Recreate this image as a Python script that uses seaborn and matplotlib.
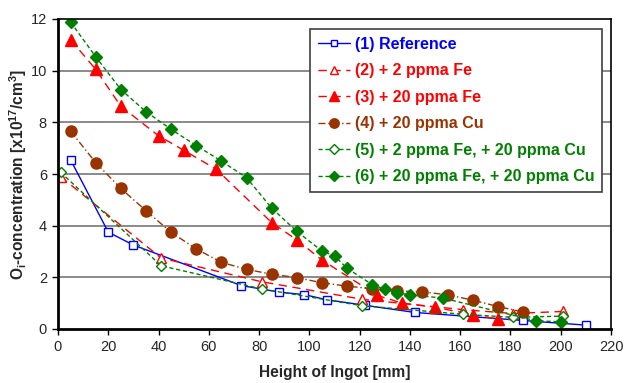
import matplotlib
matplotlib.use("Agg")
import matplotlib.pyplot as plt
import seaborn as sns
import pandas as pd

# ---- data ----
x_ref = [5, 20, 30, 73, 88, 98, 107, 122, 142, 185, 210]
y_ref = [6.55, 3.75, 3.25, 1.68, 1.43, 1.33, 1.13, 0.92, 0.64, 0.33, 0.15]

x_fe2 = [1, 41, 81, 121, 161, 181, 201]
y_fe2 = [5.9, 2.75, 1.83, 1.15, 0.75, 0.6, 0.68]

x_fe20 = [5, 15, 25, 40, 50, 63, 85, 95, 105, 127, 137, 150, 165, 175]
y_fe20 = [11.2, 10.05, 8.62, 7.48, 6.92, 6.18, 4.12, 3.45, 2.67, 1.3, 1.0, 0.84, 0.56, 0.38]

x_cu = [5, 15, 25, 35, 45, 55, 65, 75, 85, 95, 105, 115, 125, 135, 145, 155, 165, 175, 185]
y_cu = [7.66, 6.44, 5.44, 4.58, 3.74, 3.1, 2.58, 2.31, 2.12, 1.99, 1.79, 1.66, 1.56, 1.47, 1.44, 1.32, 1.12, 0.87, 0.66]

x_fe2cu = [1, 41, 81, 121, 161, 181, 201]
y_fe2cu = [6.07, 2.45, 1.55, 0.9, 0.57, 0.45, 0.5]

x_fe20cu = [5, 15, 25, 35, 45, 55, 65, 75, 85, 95, 105, 110, 115, 125, 130, 135, 140, 153, 190, 200]
y_fe20cu = [11.88, 10.54, 9.27, 8.41, 7.73, 7.1, 6.5, 5.86, 4.68, 3.78, 3.02, 2.83, 2.35, 1.72, 1.54, 1.4, 1.32, 1.2, 0.32, 0.28]

labels = ["(1) Reference", "(2) + 2 ppma Fe", "(3) + 20 ppma Fe", "(4) + 20 ppma Cu",
          "(5) + 2 ppma Fe, + 20 ppma Cu", "(6) + 20 ppma Fe, + 20 ppma Cu"]
x_ticks = [0, 20, 40, 60, 80, 100, 120, 140, 160, 180, 200, 220]
y_ticks = [0, 2, 4, 6, 8, 10, 12]

# ---- style ----
sns.set_style("white")
plt.rcParams["font.family"] = ["Liberation Sans", "DejaVu Sans"]
plt.rcParams["mathtext.fontset"] = "custom"
plt.rcParams["mathtext.rm"] = "Liberation Sans:bold"
plt.rcParams["mathtext.it"] = "Liberation Sans:bold"
plt.rcParams["mathtext.bf"] = "Liberation Sans:bold"
plt.rcParams["mathtext.default"] = "bf"

fig = plt.figure(figsize=(6.25, 3.83), dpi=100)
ax = fig.add_axes([58 / 625, 54 / 383, 553 / 625, 310 / 383])

blue = "#0000FF"
red = "#FF0000"
brown = "#993300"
green = "#008000"

series = [
    (x_ref, y_ref, dict(color=blue, linestyle="-", linewidth=1.0, marker="s", markersize=5.5,
                        markerfacecolor="white", markeredgecolor=blue, markeredgewidth=1.0)),
    (x_fe2, y_fe2, dict(color=red, linestyle=(0, (6, 4)), linewidth=1.0, marker="^", markersize=7,
                        markerfacecolor="white", markeredgecolor=red, markeredgewidth=1.0)),
    (x_fe20, y_fe20, dict(color=red, linestyle=(0, (6, 4)), linewidth=1.0, marker="^", markersize=8,
                          markerfacecolor=red, markeredgecolor=red, markeredgewidth=1.0)),
    (x_cu, y_cu, dict(color=brown, linestyle=(0, (5, 2, 1, 2)), linewidth=1.0, marker="o", markersize=8,
                      markerfacecolor=brown, markeredgecolor=brown, markeredgewidth=1.0)),
    (x_fe2cu, y_fe2cu, dict(color=green, linestyle=(0, (3, 2)), linewidth=1.0, marker="D", markersize=5.5,
                            markerfacecolor="white", markeredgecolor=green, markeredgewidth=1.0)),
    (x_fe20cu, y_fe20cu, dict(color=green, linestyle=(0, (3, 2)), linewidth=1.0, marker="D", markersize=6,
                              markerfacecolor=green, markeredgecolor=green, markeredgewidth=1.0)),
]

for (xs, ys, kw), lab in zip(series, labels):
    df = pd.DataFrame({"x": xs, "y": ys})
    sns.lineplot(data=df, x="x", y="y", ax=ax, estimator=None, sort=False, label=lab, **kw)

ax.set_xlim(0, 220)
ax.set_ylim(0, 12)
ax.set_xticks(x_ticks)
ax.set_yticks(y_ticks)
ax.tick_params(axis="both", labelsize=10.5, direction="out", length=4, width=1, color="black",
               left=True, bottom=True, pad=4)
for yv in y_ticks[1:-1]:
    ax.axhline(yv, color="#777777", linewidth=1.2, zorder=0)

for side in ["left", "bottom"]:
    ax.spines[side].set_linewidth(2.0)
    ax.spines[side].set_color("black")
for side in ["top", "right"]:
    ax.spines[side].set_linewidth(1.2)
    ax.spines[side].set_color("black")
    ax.spines[side].set_visible(True)

ax.set_xlabel("Height of Ingot [mm]", fontsize=11.2, fontweight="bold", labelpad=8)
ax.set_ylabel(r"O$_i$-concentration [x10$^{17}$/cm$^3$]", fontsize=11.2, fontweight="bold", labelpad=1)

leg = ax.legend(loc="upper left", bbox_to_anchor=((310 - 58) / 553, (329 - 29) / 310),
                borderaxespad=0, frameon=True, fancybox=False, shadow=False,
                prop={"weight": "bold", "size": 11.5}, handlelength=2.0, handletextpad=0.3,
                labelspacing=0.72, borderpad=0.5, markerscale=0.85)
leg.get_frame().set_edgecolor("#404040")
leg.get_frame().set_linewidth(1.2)
leg.get_frame().set_facecolor("white")
leg.get_frame().set_alpha(1)
cols = [blue, red, red, brown, green, green]
for t, c in zip(leg.get_texts(), cols):
    t.set_color(c)

fig.savefig("out.png", dpi=100)
